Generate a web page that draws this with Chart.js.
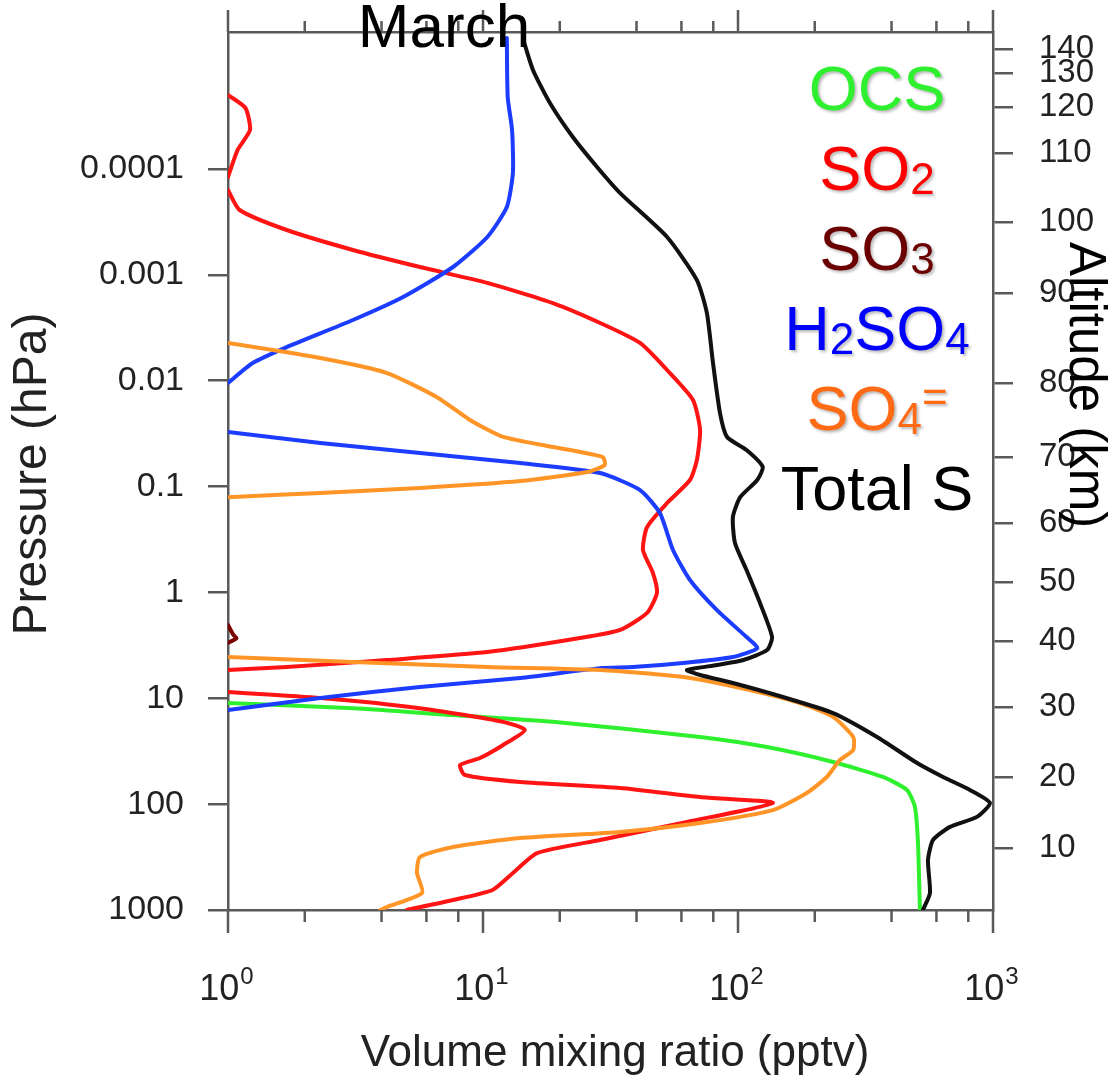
<!DOCTYPE html>
<html>
<head>
<meta charset="utf-8">
<title>March sulfur profiles</title>
<script src="https://cdn.jsdelivr.net/npm/chart.js@4/dist/chart.umd.min.js"></script>
<style>
  html, body { margin: 0; padding: 0; background: #fff; }
  canvas { display: block; }
</style>
</head>
<body>
<canvas id="profile" width="1110" height="1078"></canvas>
<script>
'use strict';

// mixing ratio (pptv) vs pressure (hPa); null breaks a curve where it drops below 1 pptv
const species = ['OCS', 'SO2', 'SO3', 'H2SO4', 'SO4=', 'Total S'];

const ocsVmr = [1.0, 3.1, 7.6, 18.8, 71, 130, 236, 370, 460, 494, 508, 517];
const ocsPres = [11.1, 12.4, 14.4, 16.7, 23.2, 28.9, 40.0, 55.4, 73.5, 106, 233, 1000];

const so2Vmr = [1.0, 1.17, 1.22, 1.09, 1.0, null,
  1.0, 1.11, 1.70, 3.09, 5.66, 10.4, 18.8, 28.8, 41.3, 52.7,
  66.6, 71.0, 69.0, 64.8, 52.7, 44.0, 42.4, 46.4, 48.1, 44.0,
  34.5, 24.0, 10.4, 4.20, 1.70, 1.0, null,
  1.0, 2.30, 5.66, 12.0, 14.6, 12.0, 9.73, 8.13, 8.50, 14.0,
  34.5, 71.0, 137, 63.1, 28.8, 16.3, 13.1, 10.9, 7.63, 5.03];
const so2Pres = [2.0e-5, 2.65e-5, 4.28e-5, 6.62e-5, 1.19e-4, null,
  1.58e-4, 2.44e-4, 3.77e-4, 5.82e-4, 8.43e-4, 1.19e-3, 1.85e-3, 2.85e-3, 4.40e-3, 7.92e-3,
  0.0152, 0.0292, 0.0561, 0.0867, 0.143, 0.241, 0.397, 0.656, 1.01, 1.56,
  2.26, 2.70, 3.66, 4.35, 5.07, 5.41, null,
  8.73, 9.94, 12.4, 16.7, 19.9, 27.6, 36.7, 42.7, 53.1, 61.8,
  70.4, 85.6, 97.5, 147, 218, 290, 447, 647, 805, 1000];

const so3Vmr = [1.0, 1.05, 1.08, 1.0];
const so3Pres = [2.03, 2.52, 2.70, 3.0];

const h2so4Vmr = [12.4, 12.5, 13.0, 13.1, 12.4, 10.4, 7.63, 4.86, 3.09, 1.70, 1.25, 1.0, null,
  1.0, 2.30, 5.66, 14.0, 28.8, 41.3, 49.4, 55.6, 64.8, 82.7,
  108, 119, 95.5, 60.9, 38.7, 28.8, 14.0, 5.66, 2.30, 1.0];
const h2so4Pres = [5.79e-6, 2.09e-5, 4.28e-5, 1.09e-4, 2.29e-4, 4.39e-4, 8.43e-4, 1.62e-3, 2.67e-3, 4.81e-3, 6.81e-3, 0.0105, null,
  0.0305, 0.0388, 0.0482, 0.0599, 0.0745, 0.108, 0.178, 0.397, 0.763, 1.47,
  2.64, 3.35, 4.07, 4.64, 5.07, 5.19, 6.43, 7.82, 9.94, 12.9];

const so4Vmr = [1.0, 2.30, 4.20, 6.60, 8.89, 12.0, 18.8, 29.5, 30.0, 25.6, 14.0, 5.66, 2.30, 1.0, null,
  1.0, 3.09, 10.4, 28.8, 60.9, 111, 175, 236, 283, 283,
  251, 223, 186, 137, 71.0, 34.5, 14.0, 7.63, 5.66, 5.51,
  5.77, 4.20, 3.95];
const so4Pres = [4.40e-3, 6.11e-3, 8.46e-3, 0.0143, 0.0235, 0.034, 0.0423, 0.0526, 0.0626, 0.0729, 0.0886, 0.103, 0.115, 0.126, null,
  4.07, 4.54, 5.07, 5.41, 6.29, 8.35, 11.1, 15.0, 23.2, 30.8,
  38.3, 55.4, 78.5, 114, 151, 183, 209, 254, 316, 447,
  690, 937, 1000];

const totalVmr = [14.4, 15.7, 18.3, 22.5, 28.0, 34.5, 52.7, 69.0, 75.5, 79.8,
  85.0, 90.6, 108, 125, 119, 102, 95.5, 97.3, 108, 122,
  136, 130, 105, 82.7, 63.1, 71.0, 95.5, 150, 236, 351,
  504, 637, 812, 973, 865, 678, 582, 556, 566, 531];
const totalPres = [6.05e-6, 1.16e-5, 2.38e-5, 4.99e-5, 9.57e-5, 1.69e-4, 4.39e-4, 1.12e-3, 2.29e-3, 6.81e-3,
  0.0202, 0.034, 0.0452, 0.0653, 0.0867, 0.126, 0.194, 0.341, 0.614, 1.26,
  2.64, 3.50, 4.35, 4.85, 5.41, 6.03, 7.17, 9.73, 13.8, 23.2,
  40.9, 55.4, 73.5, 97.5, 132, 164, 218, 337, 690, 1000];

// axis ticks
const pressureTicks = [0.0001, 0.001, 0.01, 0.1, 1, 10, 100, 1000];
const pressureLabels = ['0.0001', '0.001', '0.01', '0.1', '1', '10', '100', '1000'];
const altKm = [10, 20, 30, 40, 50, 60, 70, 80, 90, 100, 110, 120, 130, 140];
const altPres = [259, 55.4, 12.1, 2.88, 0.798, 0.221, 0.0526, 0.0105, 1.48e-3, 3.17e-4, 7.06e-5, 2.60e-5, 1.24e-5, 7.36e-6];
const vmrMajor = [1, 10, 100, 1000];
const vmrMinor = [2, 4, 6, 8, 20, 40, 60, 80, 200, 400, 600, 800];

const lineColors = ['#2ef02e', '#ff1414', '#7a0000', '#1c3cff', '#ff9526', '#111111'];
const textColors = ['#2ef02e', '#ff0000', '#6a0000', '#0000ff', '#ff6a14', '#000000'];

const FONT = '"Liberation Sans", Arial, Helvetica, sans-serif';
const AXIS = '#5a5a5a';
const INK = '#222222';
const PTOP = 5.08e-6;

function profile(vmr, pres) {
  return vmr.map((v, i) => ({ x: v, y: pres[i] }));
}

const series = [
  profile(ocsVmr, ocsPres),
  profile(so2Vmr, so2Pres),
  profile(so3Vmr, so3Pres),
  profile(h2so4Vmr, h2so4Pres),
  profile(so4Vmr, so4Pres),
  profile(totalVmr, totalPres)
];

// split a formula into runs: digits go low, '=' goes high
function formulaRuns(name) {
  if (name.indexOf(' ') >= 0) return [{ t: name, k: 'n' }];
  const runs = [];
  for (const ch of name) {
    const k = /[0-9]/.test(ch) ? 'sub' : (ch === '=' ? 'sup' : 'n');
    const last = runs[runs.length - 1];
    if (last && last.k === k) last.t += ch; else runs.push({ t: ch, k: k });
  }
  return runs;
}

// fixed box sizes so the plot frame sits at 228..993 x 32..910
function pinBox(size, vertical) {
  return s => {
    if (vertical) s.width = size; else s.height = size;
    s.paddingTop = 0; s.paddingBottom = 0;
    s.paddingLeft = 0; s.paddingRight = 0;
  };
}

const vmrTicks = {
  id: 'vmrTicks',
  afterDraw(chart) {
    const { ctx, chartArea: a } = chart;
    const x = chart.scales.x;
    ctx.save();
    ctx.strokeStyle = AXIS;
    ctx.lineWidth = 2.5;
    ctx.beginPath();
    vmrMajor.forEach(v => {
      const px = x.getPixelForValue(v);
      ctx.moveTo(px, a.bottom); ctx.lineTo(px, a.bottom + 23);
      ctx.moveTo(px, a.top); ctx.lineTo(px, a.top - 22);
    });
    vmrMinor.forEach(v => {
      const px = x.getPixelForValue(v);
      ctx.moveTo(px, a.bottom); ctx.lineTo(px, a.bottom + 12);
      ctx.moveTo(px, a.top); ctx.lineTo(px, a.top - 11);
    });
    ctx.stroke();

    // 10^n labels
    ctx.fillStyle = INK;
    ctx.textBaseline = 'alphabetic';
    ctx.textAlign = 'left';
    vmrMajor.forEach(v => {
      const px = x.getPixelForValue(v);
      const exp = String(Math.round(Math.log10(v)));
      ctx.font = '36px ' + FONT;
      const wb = ctx.measureText('10').width;
      ctx.font = '24px ' + FONT;
      const we = ctx.measureText(exp).width;
      const left = px - (wb + we) / 2 - 2;
      ctx.font = '36px ' + FONT;
      ctx.fillText('10', left, 1000);
      ctx.font = '24px ' + FONT;
      ctx.fillText(exp, left + wb + 1, 984);
    });
    ctx.restore();
  }
};

const overlayText = {
  id: 'overlayText',
  afterDraw(chart) {
    const ctx = chart.ctx;
    ctx.save();
    ctx.fillStyle = INK;
    ctx.textBaseline = 'alphabetic';
    ctx.textAlign = 'center';

    ctx.font = '44px ' + FONT;
    ctx.fillText('Volume mixing ratio (pptv)', 615, 1066);

    ctx.save();
    ctx.translate(46, 474);
    ctx.rotate(-Math.PI / 2);
    ctx.font = '48px ' + FONT;
    ctx.fillText('Pressure (hPa)', 0, 0);
    ctx.restore();

    ctx.save();
    ctx.fillStyle = '#000';
    ctx.translate(1070, 385);
    ctx.rotate(Math.PI / 2);
    ctx.font = '51px ' + FONT;
    ctx.fillText('Altitude (km)', 0, 0);
    ctx.restore();

    ctx.fillStyle = '#000';
    ctx.font = '62px ' + FONT;
    ctx.fillText('March', 444, 47);

    // species key
    ctx.textAlign = 'left';
    ctx.shadowColor = 'rgba(0,0,0,0.28)';
    ctx.shadowOffsetX = 2;
    ctx.shadowOffsetY = 2;
    ctx.shadowBlur = 3;
    const sizes = { n: 63, sub: 44, sup: 44 };
    const shift = { n: 0, sub: 4, sup: -18 };
    species.forEach((name, i) => {
      const runs = formulaRuns(name);
      let w = 0;
      runs.forEach(r => { ctx.font = sizes[r.k] + 'px ' + FONT; r.w = ctx.measureText(r.t).width; w += r.w; });
      let cx = 877 - w / 2;
      const base = 110 + i * 80;
      ctx.fillStyle = textColors[i];
      if (i === species.length - 1) ctx.shadowColor = 'rgba(0,0,0,0)';
      runs.forEach(r => {
        ctx.font = sizes[r.k] + 'px ' + FONT;
        ctx.fillText(r.t, cx, base + shift[r.k]);
        cx += r.w;
      });
    });
    ctx.restore();
  }
};

const logAxisBase = {
  type: 'logarithmic',
  bounds: 'data',
  border: { display: true, color: AXIS, width: 2.5 }
};

new Chart(document.getElementById('profile'), {
  type: 'scatter',
  data: {
    datasets: species.map((name, i) => ({
      label: name,
      data: series[i],
      showLine: true,
      spanGaps: false,
      borderColor: lineColors[i],
      backgroundColor: lineColors[i],
      borderWidth: 4,
      pointRadius: 0,
      tension: 0.2,
      borderJoinStyle: 'round',
      borderCapStyle: 'round',
      order: species.length - i
    }))
  },
  options: {
    responsive: false,
    animation: false,
    devicePixelRatio: 1,
    layout: { padding: 0 },
    plugins: { legend: { display: false }, tooltip: { enabled: false } },
    scales: {
      x: Object.assign({}, logAxisBase, {
        position: 'bottom', min: 1, max: 1000,
        grid: { display: false },
        ticks: { display: false },
        afterFit: pinBox(168, false)
      }),
      xTop: Object.assign({}, logAxisBase, {
        position: 'top', min: 1, max: 1000,
        grid: { display: false },
        ticks: { display: false },
        afterFit: pinBox(32, false)
      }),
      y: Object.assign({}, logAxisBase, {
        position: 'left', reverse: true, min: PTOP, max: 1000,
        afterBuildTicks: s => { s.ticks = pressureTicks.map(v => ({ value: v })); },
        ticks: {
          autoSkip: false, padding: 24, color: INK,
          font: { size: 34, family: FONT },
          callback: (v, i) => pressureLabels[i]
        },
        grid: { drawOnChartArea: false, drawTicks: true, tickLength: 20, color: AXIS, lineWidth: 2.5 },
        afterFit: pinBox(228, true)
      }),
      alt: Object.assign({}, logAxisBase, {
        position: 'right', reverse: true, min: PTOP, max: 1000,
        afterBuildTicks: s => { s.ticks = altPres.map(v => ({ value: v })); },
        ticks: {
          autoSkip: false, padding: 26, color: INK,
          font: { size: 33, family: FONT },
          callback: (v, i) => String(altKm[i])
        },
        grid: { drawOnChartArea: false, drawTicks: true, tickLength: 20, color: AXIS, lineWidth: 2.5 },
        afterFit: pinBox(117, true)
      })
    }
  },
  plugins: [vmrTicks, overlayText]
});
</script>
</body>
</html>
